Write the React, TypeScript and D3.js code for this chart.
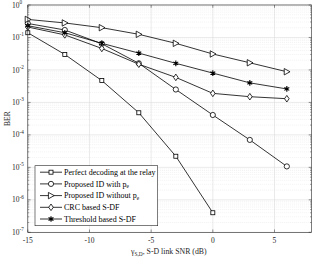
import React from "react";
import * as d3 from "d3";

// SNR points (dB)
const snr = [-15, -12, -9, -6, -3, 0, 3, 6];
const snrPerfect = [-15, -12, -9, -6, -3, 0];

// BER values
const perfect = [0.14, 0.03, 4.7e-3, 4.8e-4, 2.2e-5, 4e-7];
const withPe = [0.27, 0.17, 0.064, 0.016, 2.5e-3, 4.1e-4, 7e-5, 1.07e-5];
const withoutPe = [0.36, 0.28, 0.2, 0.125, 0.066, 0.031, 0.0166, 8.8e-3];
const crc = [0.21, 0.12, 0.046, 0.015, 5.9e-3, 1.9e-3, 1.5e-3, 1.3e-3];
const threshold = [0.23, 0.14, 0.066, 0.033, 0.016, 8e-3, 4e-3, 2.6e-3];

const xTicks = [-15, -10, -5, 0, 5];
const yExps = [0, -1, -2, -3, -4, -5, -6, -7];

const legendLabels = [
  ["Perfect decoding at the relay", ""],
  ["Proposed ID with p", "e"],
  ["Proposed ID without p", "e"],
  ["CRC based S-DF", ""],
  ["Threshold based S-DF", ""],
];

const width = 313;
const height = 259;
const plot = { left: 27.8, right: 311.5, top: 5, bottom: 232.3 };
const font = "'Liberation Serif', 'Times New Roman', serif";

const Marker = ({ kind, cx, cy }: { kind: string; cx: number; cy: number }) => {
  const common = { fill: "#fff", stroke: "#000", strokeWidth: 0.8 };
  if (kind === "square") return <rect x={cx - 2} y={cy - 2} width={4} height={4} {...common} />;
  if (kind === "circle") return <circle cx={cx} cy={cy} r={2.6} {...common} />;
  if (kind === "triangle")
    return <path d={`M${cx - 2.6},${cy - 3.2}L${cx + 3.2},${cy}L${cx - 2.6},${cy + 3.2}Z`} {...common} />;
  if (kind === "diamond")
    return <path d={`M${cx},${cy - 3.3}L${cx + 2.3},${cy}L${cx},${cy + 3.3}L${cx - 2.3},${cy}Z`} {...common} />;
  // asterisk
  const p = d3.symbol(d3.symbolAsterisk, 22)() as string;
  return (
    <g transform={`translate(${cx},${cy})`}>
      <path d={p} fill="none" stroke="#000" strokeWidth={1.1} />
      <rect x={-1.2} y={-1.2} width={2.4} height={2.4} fill="#000" />
    </g>
  );
};

export default function App() {
  const x = d3.scaleLinear().domain([-15, 8]).range([plot.left, plot.right]);
  const y = d3.scaleLog().domain([1e-7, 1]).range([plot.bottom, plot.top]);

  const series = [
    { xs: snrPerfect, ys: perfect, kind: "square" },
    { xs: snr, ys: withPe, kind: "circle" },
    { xs: snr, ys: withoutPe, kind: "triangle" },
    { xs: snr, ys: crc, kind: "diamond" },
    { xs: snr, ys: threshold, kind: "star" },
  ];

  const line = d3
    .line<[number, number]>()
    .x((d) => x(d[0]))
    .y((d) => y(d[1]));

  const minorY: number[] = [];
  for (let e = -7; e < 0; e++) for (let m = 2; m <= 9; m++) minorY.push(m * Math.pow(10, e));

  const legendTop = 165.7;
  const legendStep = 11.7;

  return (
    <svg
      width={width}
      height={height}
      style={{ position: "absolute", left: 0, top: 0, background: "#fff" }}
      fontFamily={font}
    >
      <rect x={0} y={0} width={width} height={height} fill="#fff" />
      {/* minor grid */}
      {minorY.map((v, i) => (
        <line key={"mg" + i} x1={plot.left} x2={plot.right} y1={y(v)} y2={y(v)} stroke="#e4e4e4" strokeWidth={0.5} strokeDasharray="1,1" />
      ))}
      {/* major grid */}
      {yExps.map((e) => (
        <line key={"gy" + e} x1={plot.left} x2={plot.right} y1={y(Math.pow(10, e))} y2={y(Math.pow(10, e))} stroke="#dcdcdc" strokeWidth={0.6} />
      ))}
      {xTicks.map((t) => (
        <line key={"gx" + t} x1={x(t)} x2={x(t)} y1={plot.top} y2={plot.bottom} stroke="#dcdcdc" strokeWidth={0.6} />
      ))}

      {/* series */}
      {series.map((s, i) => (
        <path
          key={"l" + i}
          d={line(s.xs.map((v, j) => [v, s.ys[j]] as [number, number])) as string}
          fill="none"
          stroke="#000"
          strokeWidth={0.8}
        />
      ))}
      {series.map((s, i) => (
        <g key={"m" + i}>
          {s.xs.map((v, j) => (
            <Marker key={j} kind={s.kind} cx={x(v)} cy={y(s.ys[j])} />
          ))}
        </g>
      ))}

      {/* axes box and ticks */}
      <rect x={plot.left} y={plot.top} width={plot.right - plot.left} height={plot.bottom - plot.top} fill="none" stroke="#262626" strokeWidth={0.6} />
      {xTicks.map((t) => (
        <g key={"tx" + t}>
          <line x1={x(t)} x2={x(t)} y1={plot.bottom} y2={plot.bottom - 2.8} stroke="#262626" strokeWidth={0.5} />
          <line x1={x(t)} x2={x(t)} y1={plot.top} y2={plot.top + 2.8} stroke="#262626" strokeWidth={0.5} />
          <text x={x(t)} y={243} textAnchor="middle" fontSize={7.5} fill="#262626">
            {t}
          </text>
        </g>
      ))}
      {yExps.map((e) => (
        <g key={"ty" + e}>
          <line x1={plot.left} x2={plot.left + 2.8} y1={y(Math.pow(10, e))} y2={y(Math.pow(10, e))} stroke="#262626" strokeWidth={0.5} />
          <line x1={plot.right} x2={plot.right - 2.8} y1={y(Math.pow(10, e))} y2={y(Math.pow(10, e))} stroke="#262626" strokeWidth={0.5} />
          <text x={12} y={y(Math.pow(10, e)) + 2.6} fontSize={7.5} fill="#262626">
            10
            <tspan fontSize={5.2} dy={-3.6}>
              {e === 0 ? "0" : String(e)}
            </tspan>
          </text>
        </g>
      ))}
      {minorY.map((v, i) => (
        <g key={"mt" + i}>
          <line x1={plot.left} x2={plot.left + 1.5} y1={y(v)} y2={y(v)} stroke="#262626" strokeWidth={0.4} />
          <line x1={plot.right} x2={plot.right - 1.5} y1={y(v)} y2={y(v)} stroke="#262626" strokeWidth={0.4} />
        </g>
      ))}

      {/* axis labels */}
      <text transform={`translate(9.5,${(plot.top + plot.bottom) / 2}) rotate(-90)`} textAnchor="middle" fontSize={7.5} fill="#262626">
        BER
      </text>
      <text x={131} y={254} fontSize={7.8} fill="#262626">
        γ
        <tspan fontSize={5.4} dy={1.8}>
          S,D
        </tspan>
        <tspan dy={-1.8}>, S-D link SNR (dB)</tspan>
      </text>

      {/* legend */}
      <rect x={35} y={legendTop} width={122.7} height={60} fill="#fff" stroke="#262626" strokeWidth={0.6} />
      {legendLabels.map((lab, i) => {
        const ly = legendTop + 6.5 + i * legendStep;
        return (
          <g key={"lg" + i}>
            <line x1={40} x2={62} y1={ly} y2={ly} stroke="#000" strokeWidth={0.8} />
            <Marker kind={series[i].kind} cx={51} cy={ly} />
            <text x={64} y={ly + 2.7} fontSize={8} fill="#000">
              {lab[0]}
              {lab[1] && (
                <tspan fontSize={5.4} dy={1.8}>
                  {lab[1]}
                </tspan>
              )}
            </text>
          </g>
        );
      })}
    </svg>
  );
}
